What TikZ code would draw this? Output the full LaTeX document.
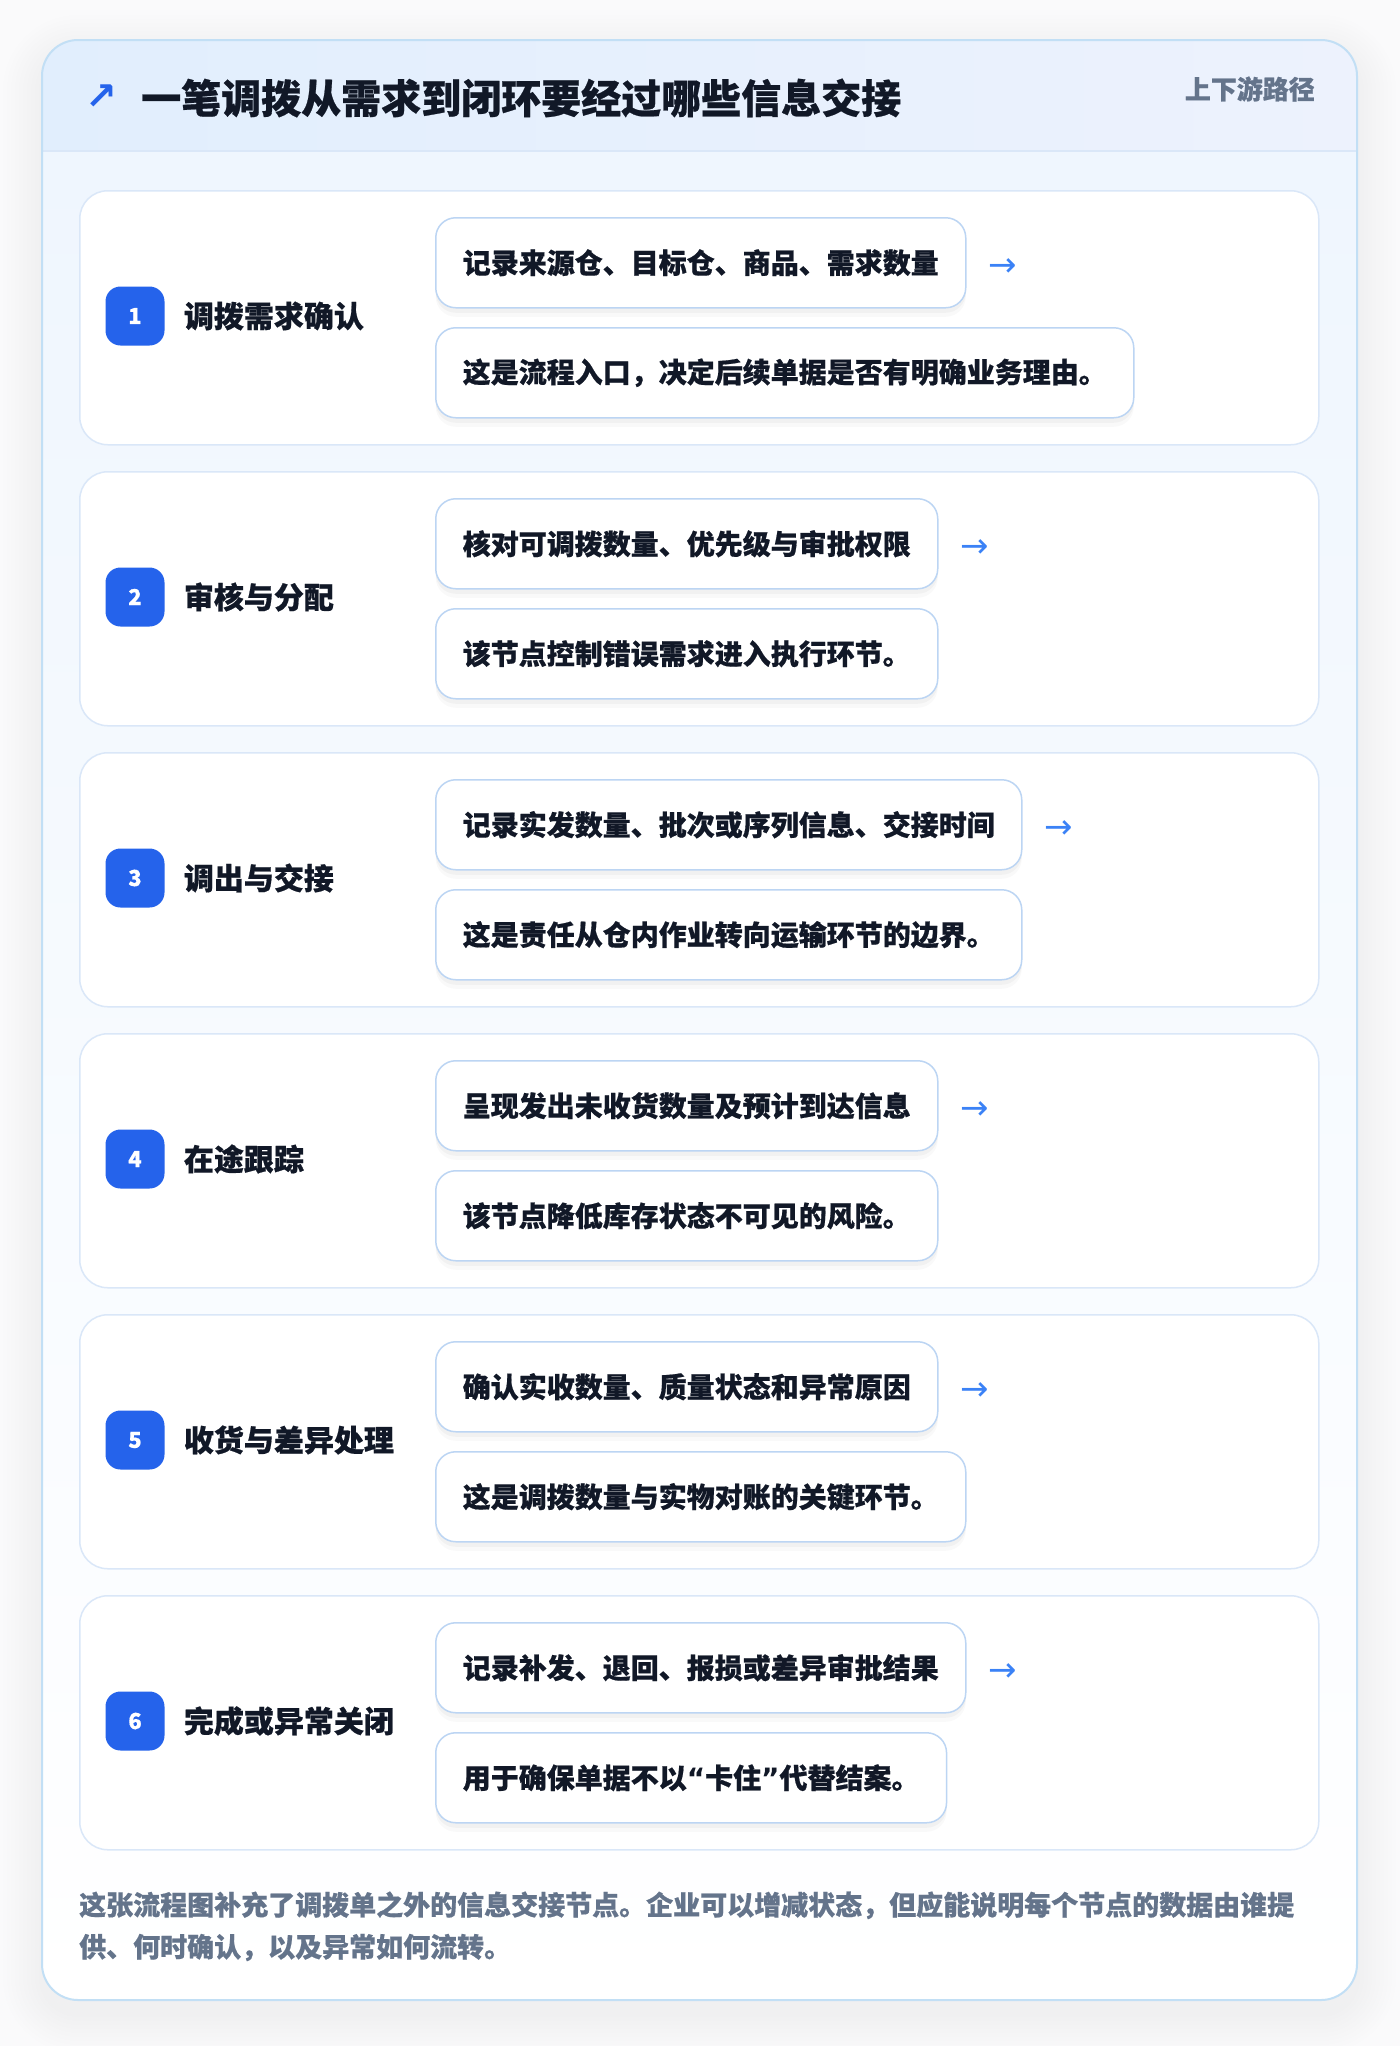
\documentclass[tikz,border=0pt]{standalone}
\usepackage{fontspec}
\setmainfont{Noto Sans CJK SC}[BoldFeatures={FakeBold=0.6}]
\newfontfamily\symfont{DejaVu Sans}
\usetikzlibrary{positioning}

\definecolor{ink}{HTML}{111827}
\definecolor{slate}{HTML}{64748B}
\definecolor{badgeblue}{HTML}{2563EB}
\definecolor{arrowblue}{HTML}{3B82F6}
\definecolor{cardline}{HTML}{C2DFF5}
\definecolor{stepline}{HTML}{DAE7F8}
\definecolor{boxline}{HTML}{BCD5F3}
\definecolor{headleft}{HTML}{E1EEFD}
\definecolor{headright}{HTML}{EDF2FD}
\definecolor{bodytop}{HTML}{EFF6FE}
\definecolor{pagebg}{HTML}{FAFAFB}

\begin{document}
\begin{tikzpicture}[x=1pt, y=-1pt,
    stepcard/.style={draw=stepline, line width=1.5pt, fill=white, rounded corners=28pt,
      minimum width=1239pt, minimum height=254pt, anchor=north west, inner sep=0pt},
    badge/.style={fill=badgeblue, rounded corners=15pt, minimum size=59pt, inner sep=0pt,
      text=white, font=\bfseries\fontsize{22}{22}\selectfont},
    stepname/.style={text=ink, inner sep=0pt, font=\bfseries\fontsize{30}{36}\selectfont},
    infobox/.style={draw=boxline, line width=1.5pt, fill=white, rounded corners=20pt,
      minimum height=90pt, inner xsep=27pt, anchor=north west, text=ink,
      font=\bfseries\fontsize{28}{34}\selectfont,
      preaction={fill=black, opacity=0.025, transform canvas={yshift=-9pt}},
      preaction={fill=black, opacity=0.03, transform canvas={yshift=-5pt}}},
    nextarrow/.style={text=arrowblue, inner sep=0pt, font=\symfont\fontsize{34}{34}\selectfont},
    note/.style={text=slate, inner sep=0pt, anchor=base west, font=\bfseries\fontsize{27}{42}\selectfont}
  ]
  \useasboundingbox (0,0) rectangle (1400,2046);
  \fill[pagebg] (0,0) rectangle (1400,2046);

  % outer card with soft shadow
  \foreach \s in {3,7,...,39}
    \fill[black, opacity=0.005, rounded corners=36pt+\s pt]
      (42-\s,40-\s+14) rectangle (1357+\s,2000+\s+14);
  \fill[white, rounded corners=36pt] (42,40) rectangle (1357,2000);
  \begin{scope}
    \clip[rounded corners=36pt] (42,40) rectangle (1357,2000);
    \shade[top color=bodytop, bottom color=white] (42,151) rectangle (1357,2000);
    \shade[left color=headleft, right color=headright] (42,40) rectangle (1357,151);
  \end{scope}
  \draw[stepline, line width=2pt] (42,151) -- (1357,151);
  \draw[cardline, line width=2pt, rounded corners=36pt] (42,40) rectangle (1357,2000);

  % header
  \node[text=badgeblue, inner sep=0pt, font=\symfont\bfseries\fontsize{38}{38}\selectfont] (icon) at (101,97) {↗};
  \node[text=ink, anchor=west, inner sep=0pt, font=\bfseries\fontsize{40}{40}\selectfont]
    (title) at (141,98) {一笔调拨从需求到闭环要经过哪些信息交接};
  \node[text=slate, anchor=east, inner sep=0pt, font=\bfseries\fontsize{26}{26}\selectfont]
    (tag) at (1315,89) {上下游路径};

  % steps
  \foreach \n/\stitle/\uptext/\lowtext [evaluate=\n as \ytop using {190+(\n-1)*281}] in {
      1/{调拨需求确认}/{记录来源仓、目标仓、商品、需求数量}/{这是流程入口，决定后续单据是否有明确业务理由。},
      2/{审核与分配}/{核对可调拨数量、优先级与审批权限}/{该节点控制错误需求进入执行环节。},
      3/{调出与交接}/{记录实发数量、批次或序列信息、交接时间}/{这是责任从仓内作业转向运输环节的边界。},
      4/{在途跟踪}/{呈现发出未收货数量及预计到达信息}/{该节点降低库存状态不可见的风险。},
      5/{收货与差异处理}/{确认实收数量、质量状态和异常原因}/{这是调拨数量与实物对账的关键环节。},
      6/{完成或异常关闭}/{记录补发、退回、报损或差异审批结果}/{用于确保单据不以{\symfont “}卡住{\symfont ”}代替结案。}} {
    \node[stepcard] (card\n) at (79,\ytop) {};
    \node[badge] (badge\n) at (135,\ytop+126) {\n};
    \node[stepname, right=19pt of badge\n] (name\n) {\stitle};
    \node[infobox] (up\n) at (435,\ytop+27) {\uptext};
    \node[infobox] (low\n) at (435,\ytop+137) {\lowtext};
    \node[nextarrow, right=22pt of up\n, yshift=-5pt] (arr\n) {→};
  }

  % footer
  \node[note] (note1) at (79,1915) {这张流程图补充了调拨单之外的信息交接节点。企业可以增减状态，但应能说明每个节点的数据由谁提};
  \node[note] (note2) at (79,1957) {供、何时确认，以及异常如何流转。};
\end{tikzpicture}
\end{document}
